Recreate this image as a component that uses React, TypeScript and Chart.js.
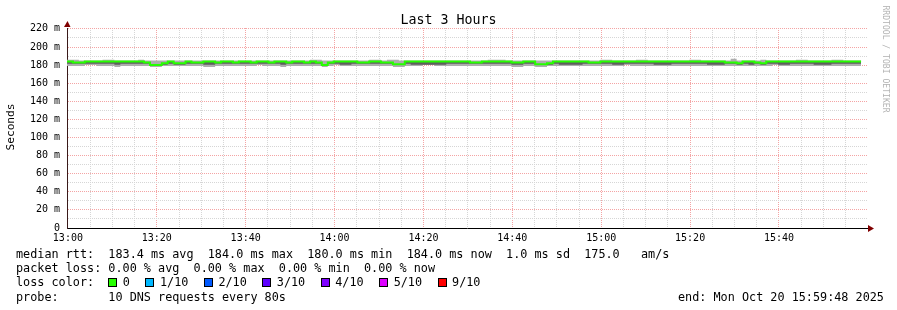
import React, { useEffect, useRef } from "react";
import { Chart, registerables } from "chart.js";
Chart.register(...registerables);

// ---- data (milliseconds) ----
const STEP_SECONDS = 80;
const START_MINUTE = -0.2; // 12:59:48, minutes relative to 13:00
const END_MINUTE = 179.8; // 15:59:48

const medianMs = [
  184, 184, 183, 183, 184, 184, 184, 184, 184, 184,
  184, 184, 184, 184, 183, 180, 180, 182, 184, 182,
  182, 184, 183, 183, 184, 184, 183, 184, 184, 183,
  184, 184, 183, 184, 184, 183, 184, 184, 183, 184,
  184, 183, 184, 183, 180, 183, 184, 184, 184, 184,
  183, 183, 184, 184, 183, 183, 181, 181, 184, 184,
  184, 184, 184, 184, 184, 184, 184, 184, 184, 183,
  183, 184, 184, 184, 184, 184, 183, 183, 184, 184,
  181, 181, 182, 184, 184, 184, 184, 184, 184, 183,
  183, 184, 184, 184, 184, 184, 184, 184, 184, 184,
  184, 184, 184, 184, 184, 184, 184, 184, 184, 184,
  184, 184, 183, 183, 182, 184, 184, 183, 182, 184,
  184, 184, 184, 184, 184, 184, 184, 184, 184, 184,
  184, 184, 184, 184,
];

const maxPingMs = [
  185, 186, 186, 185, 185, 185, 185, 186, 186, 185,
  185, 185, 185, 186, 185, 185, 185, 185, 185, 185,
  185, 185, 185, 185, 185, 185, 185, 185, 185, 185,
  185, 185, 185, 185, 185, 185, 185, 185, 185, 185,
  185, 185, 186, 186, 185, 185, 185, 185, 185, 185,
  185, 185, 186, 186, 185, 186, 186, 185, 185, 185,
  185, 185, 185, 185, 185, 185, 185, 185, 185, 185,
  185, 185, 186, 186, 186, 185, 185, 185, 185, 185,
  185, 185, 185, 185, 185, 185, 185, 185, 185, 185,
  185, 186, 186, 185, 185, 185, 185, 186, 186, 185,
  185, 185, 185, 185, 185, 185, 186, 186, 185, 185,
  185, 185, 185, 187, 185, 185, 185, 185, 186, 185,
  185, 185, 185, 185, 186, 186, 185, 185, 185, 185,
  186, 186, 185, 185,
];

const minPingMs = [
  179, 179, 179, 179, 180, 180, 179, 179, 179, 178,
  179, 179, 179, 179, 179, 178, 178, 179, 179, 179,
  179, 179, 179, 179, 178, 178, 179, 179, 179, 179,
  179, 179, 179, 180, 179, 179, 179, 178, 179, 179,
  179, 179, 179, 179, 178, 179, 180, 179, 179, 179,
  179, 179, 179, 179, 179, 179, 178, 178, 179, 179,
  179, 180, 180, 179, 179, 179, 179, 179, 179, 179,
  179, 179, 179, 179, 179, 179, 178, 178, 179, 179,
  178, 178, 179, 179, 179, 179, 179, 179, 179, 179,
  179, 179, 179, 179, 179, 180, 179, 179, 179, 179,
  179, 179, 179, 179, 179, 179, 179, 179, 179, 179,
  179, 179, 179, 179, 179, 179, 179, 179, 179, 179,
  180, 179, 179, 179, 179, 179, 179, 179, 179, 179,
  179, 179, 179, 179,
];

const innerLoPingMs = [
  181.5, 181.5, 181.5, 181.5, 181.5, 181.5, 181.5, 181.5, 181.5, 180.5,
  181.5, 181.5, 181.5, 181.5, 181.5, 180, 180, 180.5, 181.5, 180.5,
  180.5, 181.5, 181.5, 181.5, 180.5, 180.5, 181.5, 181.5, 181.5, 181.5,
  181.5, 181.5, 181.5, 181.5, 181.5, 181.5, 181.5, 180.5, 181.5, 181.5,
  181.5, 181.5, 181.5, 181.5, 180, 181.5, 181.5, 180.5, 180.5, 181.5,
  181.5, 181.5, 181.5, 181.5, 181.5, 181.5, 180, 180, 181.5, 180.5,
  180.5, 180.5, 180.5, 180.5, 180.5, 181.5, 181.5, 181.5, 181.5, 181.5,
  181.5, 181.5, 181.5, 181.5, 181.5, 181.5, 180.5, 180.5, 181.5, 181.5,
  180, 180, 180.5, 181.5, 180.5, 180.5, 180.5, 180.5, 181.5, 181.5,
  181.5, 181.5, 181.5, 180.5, 180.5, 181.5, 181.5, 181.5, 181.5, 181.5,
  180.5, 180.5, 180.5, 181.5, 181.5, 181.5, 181.5, 181.5, 181.5, 180.5,
  180.5, 180.5, 181.5, 181.5, 180.5, 181.5, 180.5, 181.5, 180.5, 181.5,
  181.5, 180.5, 180.5, 181.5, 181.5, 181.5, 181.5, 180.5, 180.5, 180.5,
  181.5, 181.5, 181.5, 181.5,
];

const xTickMinutes = [
  0, 5, 10, 15, 20, 25, 30, 35, 40, 45, 50, 55, 60, 65, 70, 75, 80, 85,
  90, 95, 100, 105, 110, 115, 120, 125, 130, 135, 140, 145, 150, 155, 160,
  165, 170, 175,
];
const xMajorLabels = ["13:00", "13:20", "13:40", "14:00", "14:20", "14:40", "15:00", "15:20", "15:40"];
const yTickMs = [0, 10, 20, 30, 40, 50, 60, 70, 80, 90, 100, 110, 120, 130, 140, 150, 160, 170, 180, 190, 200, 210, 220];
const Y_MAX_MS = 221;

const lossLabels = ["0", "1/10", "2/10", "3/10", "4/10", "5/10", "9/10"];
const lossColors = ["#26ff00", "#00b8ff", "#0059ff", "#5e00ff", "#7e00ff", "#dd00ff", "#ff0000"];

const titleText = "Last 3 Hours";
const yTitle = "Seconds";
const rttLine = "median rtt:  183.4 ms avg  184.0 ms max  180.0 ms min  184.0 ms now  1.0 ms sd  175.0   am/s";
const lossLine = "packet loss: 0.00 % avg  0.00 % max  0.00 % min  0.00 % now";
const probeLine = "probe:       10 DNS requests every 80s";
const endLine = "end: Mon Oct 20 15:59:48 2025";
const watermark = "RRDTOOL / TOBI OETIKER";

const MONO = "'DejaVu Sans Mono', monospace";
const MINOR_GRID = "#d6d6d6";
const MAJOR_GRID = "#f4a4a4";
const ARROW = "#800000";

function toPoints(values: number[]) {
  const stepMin = STEP_SECONDS / 60;
  const pts = values.map((v, i) => ({ x: START_MINUTE + i * stepMin, y: v }));
  // closing point so the last step has its full width
  pts.push({ x: START_MINUTE + values.length * stepMin, y: values[values.length - 1] });
  return pts;
}

const arrowPlugin = {
  id: "rrdArrows",
  afterDraw(chart: any) {
    const { ctx, chartArea } = chart;
    const { left, top, right, bottom } = chartArea;
    ctx.save();
    ctx.fillStyle = ARROW;
    ctx.beginPath();
    ctx.moveTo(left - 3, top - 1);
    ctx.lineTo(left + 3.5, top - 1);
    ctx.lineTo(left + 0.5, top - 7);
    ctx.closePath();
    ctx.fill();
    ctx.beginPath();
    ctx.moveTo(right + 1, bottom - 3);
    ctx.lineTo(right + 1, bottom + 4);
    ctx.lineTo(right + 7, bottom + 0.5);
    ctx.closePath();
    ctx.fill();
    ctx.restore();
  },
};

function SmokeChart() {
  const ref = useRef<HTMLCanvasElement | null>(null);
  useEffect(() => {
    if (!ref.current) return;
    const chart = new Chart(ref.current, {
      type: "line",
      data: {
        datasets: [
          {
            label: "median",
            data: toPoints(medianMs),
            borderColor: lossColors[0],
            borderWidth: 2,
            stepped: "after",
            pointRadius: 0,
            fill: false,
          },
          {
            label: "inner",
            data: toPoints(innerLoPingMs),
            borderColor: "rgba(0,0,0,0)",
            borderWidth: 0,
            stepped: "after",
            pointRadius: 0,
            backgroundColor: "#5e5e5e",
            fill: 0,
          },
          {
            label: "max",
            data: toPoints(maxPingMs),
            borderColor: "rgba(0,0,0,0)",
            borderWidth: 0,
            stepped: "after",
            pointRadius: 0,
            backgroundColor: "#adadad",
            fill: 3,
          },
          {
            label: "min",
            data: toPoints(minPingMs),
            borderColor: "rgba(0,0,0,0)",
            borderWidth: 0,
            stepped: "after",
            pointRadius: 0,
            fill: false,
          },
        ],
      } as any,
      options: {
        animation: false,
        responsive: false,
        devicePixelRatio: 1,
        events: [],
        layout: { padding: { top: 28, right: 30, bottom: 62, left: 0 } },
        plugins: {
          legend: { display: false },
          title: { display: false },
          tooltip: { enabled: false },
        },
        scales: {
          x: {
            type: "linear",
            min: START_MINUTE,
            max: END_MINUTE,
            afterBuildTicks: (scale: any) => {
              scale.ticks = xTickMinutes.map((v) => ({ value: v }));
            },
            afterFit: (scale: any) => {
              scale.height = 20;
            },
            ticks: {
              autoSkip: false,
              maxRotation: 0,
              padding: 4,
              color: "#000",
              font: { family: MONO, size: 10 },
              callback: (v: any) => (v % 20 === 0 ? xMajorLabels[v / 20] : ""),
            },
            grid: {
              drawTicks: false,
              lineWidth: 1,
              color: (c: any) => (c.tick && c.tick.value % 20 === 0 ? MAJOR_GRID : MINOR_GRID),
            },
            border: { display: true, color: "#000", width: 1, dash: [1, 1] },
          },
          y: {
            type: "linear",
            min: 0,
            max: Y_MAX_MS,
            afterBuildTicks: (scale: any) => {
              scale.ticks = yTickMs.map((v) => ({ value: v }));
            },
            afterFit: (scale: any) => {
              scale.width = 67;
            },
            ticks: {
              autoSkip: false,
              padding: 7,
              color: "#000",
              font: { family: MONO, size: 10 },
              callback: (v: any) => (v % 20 === 0 ? (v === 0 ? "0" : `${v} m`) : ""),
            },
            grid: {
              drawTicks: false,
              lineWidth: 1,
              color: (c: any) => (c.tick && c.tick.value % 20 === 0 ? MAJOR_GRID : MINOR_GRID),
            },
            border: { display: true, color: "#3a1a1a", width: 1, dash: [1, 1] },
          },
        },
      } as any,
      plugins: [arrowPlugin],
    });
    return () => chart.destroy();
  }, []);
  return <canvas ref={ref} width={897} height={310} style={{ position: "absolute", left: 0, top: 0, width: 897, height: 310 }} />;
}

const rowStyle = (top: number): React.CSSProperties => ({
  position: "absolute",
  left: 16,
  top,
  height: 14,
  lineHeight: "14px",
  fontSize: 11.8,
  whiteSpace: "pre",
  color: "#000",
});

export default function App() {
  return (
    <div
      style={{
        position: "absolute",
        left: 0,
        top: 0,
        width: 897,
        height: 310,
        background: "#fff",
        fontFamily: MONO,
        overflow: "hidden",
      }}
    >
      <SmokeChart />
      <div
        style={{
          position: "absolute",
          left: 0,
          top: 11.5,
          width: 897,
          textAlign: "center",
          fontSize: 13.3,
          lineHeight: "16px",
          color: "#000",
        }}
      >
        {titleText}
      </div>
      <div
        style={{
          position: "absolute",
          left: 11 - 40,
          top: 126.5 - 7,
          width: 80,
          height: 14,
          lineHeight: "14px",
          textAlign: "center",
          fontSize: 11.2,
          transform: "rotate(-90deg)",
          color: "#000",
        }}
      >
        {yTitle}
      </div>
      <div
        style={{
          position: "absolute",
          left: 886 - 60,
          top: 59 - 5,
          width: 120,
          height: 10,
          lineHeight: "10px",
          textAlign: "center",
          fontSize: 8.1,
          transform: "rotate(90deg)",
          color: "#b4b4b4",
          whiteSpace: "pre",
        }}
      >
        {watermark}
      </div>
      <div style={rowStyle(247)}>{rttLine}</div>
      <div style={rowStyle(261.3)}>{lossLine}</div>
      <div style={{ ...rowStyle(275.3), display: "flex", alignItems: "center" }}>
        <span>{"loss color:  "}</span>
        {lossLabels.map((lab, i) => (
          <span key={lab} style={{ display: "inline-flex", alignItems: "center", marginRight: 15.5 }}>
            <span
              style={{
                display: "inline-block",
                width: 9,
                height: 9,
                boxSizing: "border-box",
                border: "1px solid #000",
                background: lossColors[i],
                marginRight: 5.5,
              }}
            />
            <span>{lab}</span>
          </span>
        ))}
      </div>
      <div style={rowStyle(289.7)}>{probeLine}</div>
      <div style={{ ...rowStyle(289.7), left: 678 }}>{endLine}</div>
    </div>
  );
}
